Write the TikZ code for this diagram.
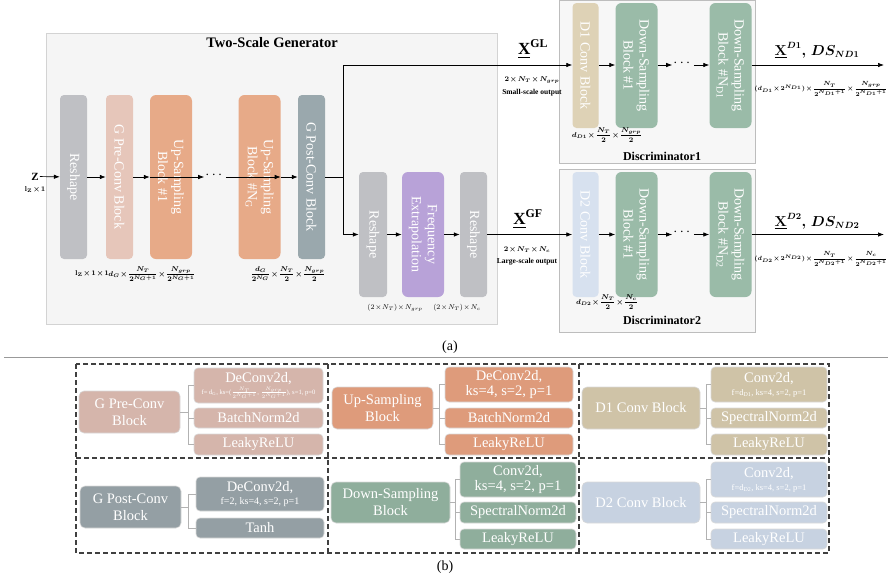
\documentclass[tikz,border=0pt]{standalone}
\usepackage{amsmath}
\usepackage{fontspec}
\setmainfont{Liberation Serif}
\usetikzlibrary{arrows.meta}
\newcommand\tms{\mskip1.5mu{\times}\mskip1.5mu}
\definecolor{cGray}{HTML}{BFC0C4}
\definecolor{cPre}{HTML}{E6C6BA}
\definecolor{cUp}{HTML}{E7AA88}
\definecolor{cPost}{HTML}{9AA8AD}
\definecolor{cFreq}{HTML}{B8A2D8}
\definecolor{cDa}{HTML}{DED2B6}
\definecolor{cDS}{HTML}{9ABBA8}
\definecolor{cDb}{HTML}{D7E1EF}
\definecolor{bPre}{HTML}{D5B5AB}
\definecolor{bUp}{HTML}{DE9B7B}
\definecolor{bDa}{HTML}{CFC3A7}
\definecolor{bPost}{HTML}{949FA4}
\definecolor{bDS}{HTML}{8FAE9C}
\definecolor{bDb}{HTML}{C7D2E1}
\definecolor{genbg}{HTML}{F5F5F5}
\definecolor{genbd}{HTML}{D3D3D3}
\definecolor{disbg}{HTML}{F7F7F7}
\definecolor{disbd}{HTML}{BDBDBD}
\begin{document}
\begin{tikzpicture}[x=1pt,y=-1pt,
  vblk/.style={rounded corners=4pt, draw=none, text=white, rotate=-90, align=center,
    font=\fontsize{14}{16}\selectfont, inner sep=0pt},
  arr/.style={-{Latex[length=6pt,width=4.5pt]}, line width=0.7pt},
  ln/.style={line width=0.7pt},
  lbl/.style={font=\fontsize{7}{9}\selectfont\boldmath, inner sep=0pt},
  ttl/.style={font=\fontsize{12}{14}\selectfont\bfseries, inner sep=0pt},
  big/.style={rounded corners=5pt, draw=white!85!black, line width=0.6pt, text=white, align=center,
    font=\fontsize{14.5}{17}\selectfont, inner sep=0pt},
  sub/.style={rounded corners=4pt, draw=white!85!black, line width=0.6pt, text=white, align=center,
    font=\fontsize{14.5}{15}\selectfont, inner sep=0pt},
  brk/.style={draw=white!70!black, line width=0.7pt},
  dsh/.style={draw=black!75, line width=1.1pt, dash pattern=on 5pt off 3pt},
  dotsn/.style={inner sep=1pt, font=\fontsize{14}{14}\selectfont}
]
\useasboundingbox (0,0) rectangle (892,582);

% ---------- (a) backgrounds ----------
\node[draw=genbd, fill=genbg, line width=0.8pt, minimum width=451pt, minimum height=291pt, inner sep=0pt] (genbox) at (271.5,178.5) {};
\node[draw=disbd, fill=disbg, line width=0.8pt, minimum width=196pt, minimum height=163pt, inner sep=0pt] (d1box) at (657,81.5) {};
\node[draw=disbd, fill=disbg, line width=0.8pt, minimum width=196pt, minimum height=163pt, inner sep=0pt] (d2box) at (657,250.5) {};
\node[font=\fontsize{14.5}{16}\selectfont\bfseries, inner sep=0pt] (gentitle) at (272,43) {Two-Scale Generator};

% ---------- generator blocks ----------
\node[vblk, fill=cGray, minimum width=164pt, minimum height=27pt] (rs1) at (73.5,177) {Reshape};
\node[vblk, fill=cPre, minimum width=164pt, minimum height=27pt] (gpre) at (119.5,177) {G Pre-Conv Block};
\node[vblk, fill=cUp, minimum width=164pt, minimum height=42pt, rounded corners=6pt] (up1) at (171,177) {Up-Sampling\\Block \#1};
\node[vblk, fill=cUp, minimum width=164pt, minimum height=42pt, rounded corners=6pt] (upn) at (259.5,177) {Up-Sampling\\Block \#N$_{\mathrm{G}}$};
\node[vblk, fill=cPost, minimum width=164pt, minimum height=27pt] (gpost) at (311.5,177) {G Post-Conv Block};
\node[vblk, fill=cGray, minimum width=125pt, minimum height=28pt] (rs2) at (373,234.5) {Reshape};
\node[vblk, fill=cFreq, minimum width=125pt, minimum height=42pt, rounded corners=6pt] (freq) at (423,234.5) {Frequency\\Extrapolation};
\node[vblk, fill=cGray, minimum width=125pt, minimum height=27pt] (rs3) at (473.5,234.5) {Reshape};

\node[dotsn] (gdots) at (215,175) {$\cdots$};
\node[font=\fontsize{11}{12}\selectfont\bfseries, inner sep=1pt] (zin) at (35,176.5) {Z};
\node[lbl] (zlab) at (35,190) {$\mathbf{l_Z\tms 1}$};

\draw[arr] (zin) -- (rs1);
\draw[arr] (rs1) -- (gpre);
\draw[arr] (gpre) -- (up1);
\draw[arr] (up1.south |- 0,177) -- (gdots.west |- 0,177);
\draw[arr] (gdots.east |- 0,177) -- (upn.north |- 0,177);
\draw[arr] (upn) -- (gpost);
\draw[ln] (gpost.north |- 0,177) -- (343,177) coordinate (split);
\coordinate (gltop) at (343,65);
\coordinate (gfbot) at (343,234.5);
\draw[ln] (split) -- (gltop);
\draw[ln] (split) -- (gfbot);
\draw[arr] (gfbot) -- (rs2);
\draw[arr] (rs2) -- (freq);
\draw[arr] (freq) -- (rs3);

\node[lbl] (lz) at (92,274) {$\mathbf{l_Z\tms 1\tms 1}$};
\node[lbl] (lpre) at (152,274) {$d_G\tms\dfrac{N_T}{2^{N_G+1}}\tms\dfrac{N_{grp}}{2^{N_G+1}}$};
\node[lbl] (lpost) at (288,274) {$\dfrac{d_G}{2^{N_G}}\tms\dfrac{N_T}{2}\tms\dfrac{N_{grp}}{2}$};
\node[lbl, font=\fontsize{7}{9}\selectfont] (lrs2) at (395,308) {$(2\tms N_T)\tms N_{grp}$};
\node[lbl, font=\fontsize{7}{9}\selectfont] (lrs3) at (457,308) {$(2\tms N_T)\tms N_c$};

% ---------- discriminator 1 ----------
\node[vblk, fill=cDa, minimum width=125pt, minimum height=26pt] (d1c) at (585.5,65.5) {D1 Conv Block};
\node[vblk, fill=cDS, minimum width=125pt, minimum height=42pt, rounded corners=6pt] (d1s1) at (636.5,65.5) {Down-Sampling\\Block \#1};
\node[vblk, fill=cDS, minimum width=125pt, minimum height=42pt, rounded corners=6pt] (d1sn) at (730.5,65.5) {Down-Sampling\\Block \#N$_{\mathrm{D1}}$};
\node[dotsn] (d1dots) at (683,63) {$\cdots$};
\draw[arr] (gltop) -- (d1c.south |- 0,65);
\draw[arr] (d1c.north |- 0,65) -- (d1s1.south |- 0,65);
\draw[arr] (d1s1.north |- 0,65) -- (d1dots.west |- 0,65);
\draw[arr] (d1dots.east |- 0,65) -- (d1sn.south |- 0,65);
\coordinate (o1) at (884,65);
\draw[arr] (d1sn.north |- 0,65) -- (o1);

\node[font=\fontsize{17}{18}\selectfont, inner sep=0pt] (xgl) at (533,49) {$\underline{\mathbf{X}}^{\mathbf{GL}}$};
\node[lbl] (xgldim) at (532,80) {$2\tms N_T\tms N_{grp}$};
\node[font=\fontsize{7.5}{9}\selectfont\bfseries, inner sep=0pt] (xglcap) at (532,93) {Small-scale output};
\node[font=\fontsize{13.5}{16}\selectfont\boldmath, inner sep=0pt] (xd1) at (817,50) {$\underline{\mathbf{X}}^{D1}{,}\;DS_{ND1}$};
\node[lbl, font=\fontsize{6.5}{8}\selectfont\boldmath] (xd1dim) at (821,89) {$(d_{D1}\tms 2^{N_{D1}})\tms\dfrac{N_T}{2^{N_{D1}+1}}\tms\dfrac{N_{grp}}{2^{N_{D1}+1}}$};
\node[lbl] (d1dim) at (607,135) {$d_{D1}\tms\dfrac{N_T}{2}\tms\dfrac{N_{grp}}{2}$};
\node[ttl] (d1t) at (662,156) {Discriminator1};

% ---------- discriminator 2 ----------
\node[vblk, fill=cDb, minimum width=125pt, minimum height=26pt] (d2c) at (585.5,234.5) {D2 Conv Block};
\node[vblk, fill=cDS, minimum width=125pt, minimum height=42pt, rounded corners=6pt] (d2s1) at (636.5,234.5) {Down-Sampling\\Block \#1};
\node[vblk, fill=cDS, minimum width=125pt, minimum height=42pt, rounded corners=6pt] (d2sn) at (730.5,234.5) {Down-Sampling\\Block \#N$_{\mathrm{D2}}$};
\node[dotsn] (d2dots) at (683,232.5) {$\cdots$};
\draw[arr] (rs3) -- (d2c);
\draw[arr] (d2c) -- (d2s1);
\draw[arr] (d2s1.north |- 0,234.5) -- (d2dots.west |- 0,234.5);
\draw[arr] (d2dots.east |- 0,234.5) -- (d2sn.south |- 0,234.5);
\coordinate (o2) at (884,234.5);
\draw[arr] (d2sn) -- (o2);

\node[font=\fontsize{17}{18}\selectfont, inner sep=0pt] (xgf) at (528,219) {$\underline{\mathbf{X}}^{\mathbf{GF}}$};
\node[lbl] (xgfdim) at (527,250) {$2\tms N_T\tms N_c$};
\node[font=\fontsize{7.5}{9}\selectfont\bfseries, inner sep=0pt] (xgfcap) at (527,262) {Large-scale output};
\node[font=\fontsize{13.5}{16}\selectfont\boldmath, inner sep=0pt] (xd2) at (817,221) {$\underline{\mathbf{X}}^{D2}{,}\;DS_{ND2}$};
\node[lbl, font=\fontsize{6.5}{8}\selectfont\boldmath] (xd2dim) at (821,259) {$(d_{D2}\tms 2^{N_{D2}})\tms\dfrac{N_T}{2^{N_{D2}+1}}\tms\dfrac{N_c}{2^{N_{D2}+1}}$};
\node[lbl] (d2dim) at (607,302) {$d_{D2}\tms\dfrac{N_T}{2}\tms\dfrac{N_c}{2}$};
\node[ttl] (d2t) at (662,320) {Discriminator2};

\node[font=\fontsize{14}{16}\selectfont, inner sep=0pt] (capa) at (450,347) {(a)};
\coordinate (sepl) at (4,357.5);
\coordinate (sepr) at (888,357.5);
\draw[draw=black!40, line width=0.8pt] (sepl) -- (sepr);

% ---------- (b) ----------
\coordinate (g1) at (76,364);
\coordinate (g2) at (829,553);
\draw[dsh] (g1) rectangle (g2);
\coordinate (h1) at (76,458);
\coordinate (h2) at (829,458);
\draw[dsh] (h1) -- (h2);
\coordinate (v1t) at (328,364);
\coordinate (v1b) at (328,553);
\draw[dsh] (v1t) -- (v1b);
\coordinate (v2t) at (579,364);
\coordinate (v2b) at (579,553);
\draw[dsh] (v2t) -- (v2b);

% G Pre-Conv
\node[big, fill=bPre, minimum width=101pt, minimum height=42pt] (bpre) at (129.5,412) {G Pre-Conv\\Block};
\node[sub, fill=bPre, minimum width=129pt, minimum height=35pt] (bpre1) at (258.5,385.5)
  {DeConv2d,\\[-3pt]{\fontsize{6.6}{7}\selectfont f= d$_{\mathrm{G}}$, ks=($\frac{N_T}{2^{N_G+1}}$, $\frac{N_{grp}}{2^{N_G+1}}$), s=1, p=0}};
\node[sub, fill=bPre, minimum width=129pt, minimum height=20pt] (bpre2) at (258.5,418) {BatchNorm2d};
\node[sub, fill=bPre, minimum width=129pt, minimum height=21pt] (bpre3) at (258.5,444.5) {LeakyReLU};
\draw[brk] (bpre.east) -- ++(8,0) coordinate (kpre);
\draw[brk] (kpre) |- (bpre1.west);
\draw[brk] (kpre) |- (bpre2.west);
\draw[brk] (kpre) |- (bpre3.west);

% G Post-Conv
\node[big, fill=bPost, minimum width=101pt, minimum height=42pt] (bpost) at (130.5,507) {G Post-Conv\\Block};
\node[sub, fill=bPost, minimum width=128pt, minimum height=34pt] (bpost1) at (260,494)
  {DeConv2d,\\[-2pt]{\fontsize{10}{11}\selectfont f=2, ks=4, s=2, p=1}};
\node[sub, fill=bPost, minimum width=128pt, minimum height=20pt] (bpost2) at (260,528) {Tanh};
\draw[brk] (bpost.east) -- ++(7,0) coordinate (kpost);
\draw[brk] (kpost) |- (bpost1.west);
\draw[brk] (kpost) |- (bpost2.west);

% Up-Sampling
\node[big, fill=bUp, minimum width=101pt, minimum height=42pt] (bup) at (382.5,408) {Up-Sampling\\Block};
\node[sub, fill=bUp, minimum width=128pt, minimum height=35pt] (bup1) at (509,384.5) {DeConv2d,\\ks=4, s=2, p=1};
\node[sub, fill=bUp, minimum width=128pt, minimum height=20pt] (bup2) at (509,418) {BatchNorm2d};
\node[sub, fill=bUp, minimum width=128pt, minimum height=21pt] (bup3) at (509,444.5) {LeakyReLU};
\draw[brk] (bup.east) -- ++(6,0) coordinate (kup);
\draw[brk] (kup) |- (bup1.west);
\draw[brk] (kup) |- (bup2.west);
\draw[brk] (kup) |- (bup3.west);

% Down-Sampling
\node[big, fill=bDS, minimum width=119pt, minimum height=41pt] (bds) at (390.5,502.5) {Down-Sampling\\Block};
\node[sub, fill=bDS, minimum width=116pt, minimum height=35pt] (bds1) at (518,479.5) {Conv2d,\\ks=4, s=2, p=1};
\node[sub, fill=bDS, minimum width=116pt, minimum height=21pt] (bds2) at (518,512.5) {SpectralNorm2d};
\node[sub, fill=bDS, minimum width=116pt, minimum height=20pt] (bds3) at (518,539) {LeakyReLU};
\draw[brk] (bds.east) -- ++(5,0) coordinate (kds);
\draw[brk] (kds) |- (bds1.west);
\draw[brk] (kds) |- (bds2.west);
\draw[brk] (kds) |- (bds3.west);

% D1 Conv
\node[big, fill=bDa, minimum width=118pt, minimum height=42pt] (bd1) at (641,408) {D1 Conv Block};
\node[sub, fill=bDa, minimum width=116pt, minimum height=35pt] (bd11) at (769,384.5)
  {Conv2d,\\[-2pt]{\fontsize{8.5}{10}\selectfont f=d$_{\mathrm{D1}}$, ks=4, s=2, p=1}};
\node[sub, fill=bDa, minimum width=116pt, minimum height=20pt] (bd12) at (769,418) {SpectralNorm2d};
\node[sub, fill=bDa, minimum width=116pt, minimum height=21pt] (bd13) at (769,444.5) {LeakyReLU};
\draw[brk] (bd1.east) -- ++(6,0) coordinate (kd1);
\draw[brk] (kd1) |- (bd11.west);
\draw[brk] (kd1) |- (bd12.west);
\draw[brk] (kd1) |- (bd13.west);

% D2 Conv
\node[big, fill=bDb, minimum width=118pt, minimum height=41pt] (bd2) at (641,502.5) {D2 Conv Block};
\node[sub, fill=bDb, minimum width=116pt, minimum height=35pt] (bd21) at (769,479.5)
  {Conv2d,\\[-2pt]{\fontsize{8.5}{10}\selectfont f=d$_{\mathrm{D2}}$, ks=4, s=2, p=1}};
\node[sub, fill=bDb, minimum width=116pt, minimum height=21pt] (bd22) at (769,512.5) {SpectralNorm2d};
\node[sub, fill=bDb, minimum width=116pt, minimum height=20pt] (bd23) at (769,539) {LeakyReLU};
\draw[brk] (bd2.east) -- ++(6,0) coordinate (kd2);
\draw[brk] (kd2) |- (bd21.west);
\draw[brk] (kd2) |- (bd22.west);
\draw[brk] (kd2) |- (bd23.west);

\node[font=\fontsize{14}{16}\selectfont, inner sep=0pt] (capb) at (445,567) {(b)};
\end{tikzpicture}
\end{document}
